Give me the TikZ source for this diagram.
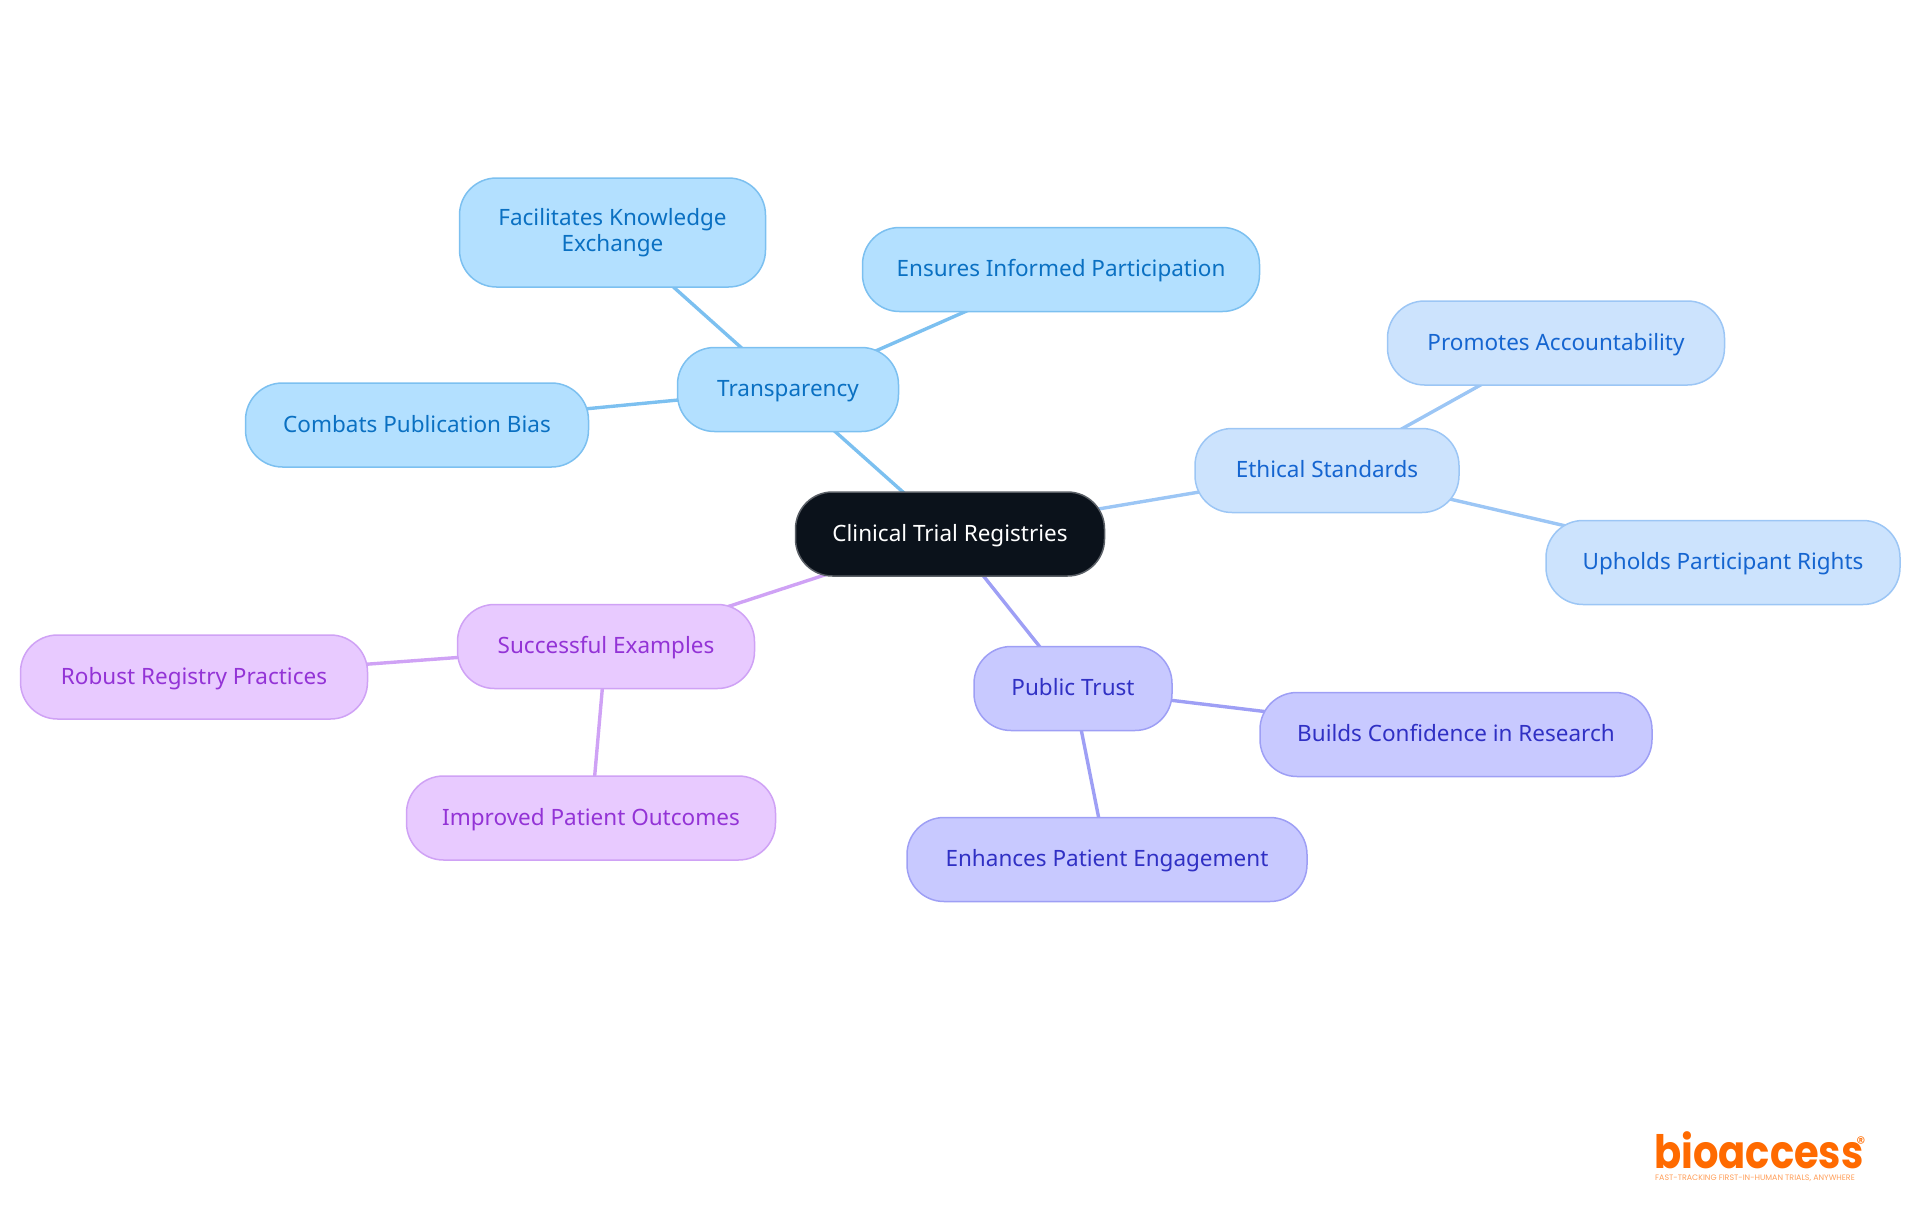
\documentclass[tikz,border=0pt]{standalone}
\usepackage{fontspec}
\setmainfont{Noto Sans}
\newfontfamily\logofont{Poppins}
\usetikzlibrary{backgrounds}
\definecolor{rootfill}{HTML}{0B121B}
\definecolor{rootline}{HTML}{5A5F66}
\definecolor{transfill}{HTML}{B3E0FF}
\definecolor{transline}{HTML}{7CC0F0}
\definecolor{transtext}{HTML}{0A70C2}
\definecolor{ethicfill}{HTML}{CCE3FD}
\definecolor{ethicline}{HTML}{9CC6F5}
\definecolor{ethictext}{HTML}{1565D0}
\definecolor{trustfill}{HTML}{C8C9FF}
\definecolor{trustline}{HTML}{9E9FF5}
\definecolor{trusttext}{HTML}{3030C4}
\definecolor{examplefill}{HTML}{E8CAFF}
\definecolor{exampleline}{HTML}{CFA2F5}
\definecolor{exampletext}{HTML}{9333D6}
\definecolor{logocol}{HTML}{FF6A00}
\tikzset{
  topic/.style={draw, rectangle, rounded corners=37pt, line width=1.5pt, minimum height=84pt,
    inner sep=0pt, align=center, text height=18pt, text depth=4pt, font=\fontsize{22.5}{26}\selectfont},
  root/.style={topic, fill=rootfill, draw=rootline, text=white},
  trans/.style={topic, fill=transfill, draw=transline, text=transtext},
  ethic/.style={topic, fill=ethicfill, draw=ethicline, text=ethictext},
  trust/.style={topic, fill=trustfill, draw=trustline, text=trusttext},
  example/.style={topic, fill=examplefill, draw=exampleline, text=exampletext},
  edge/.style={line width=3.4pt}
}
\begin{document}
\begin{tikzpicture}[x=1pt,y=-1pt]
  \useasboundingbox (0,0) rectangle (1920,1215);
  \node[root, minimum width=309pt] (registries) at (950,534) {Clinical Trial Registries};
  % first ring
  \node[trans, minimum width=221pt] (transparency) at (788,389.5) {Transparency};
  \node[ethic, minimum width=264pt] (ethical) at (1327,470.5) {Ethical Standards};
  \node[trust, minimum width=198pt] (publictrust) at (1073,688.5) {Public Trust};
  \node[example, minimum width=297pt] (successful) at (606,646.5) {Successful Examples};
  % leaves
  \node[trans, minimum width=306pt, minimum height=109pt, text height=42.4pt] (knowledge) at (612.5,232.5) {Facilitates Knowledge\\Exchange};
  \node[trans, minimum width=397pt] (informed) at (1061,269.5) {Ensures Informed Participation};
  \node[trans, minimum width=343pt] (bias) at (417,425) {Combats Publication Bias};
  \node[ethic, minimum width=337pt] (accountability) at (1556,343) {Promotes Accountability};
  \node[ethic, minimum width=354pt] (rights) at (1723,562.5) {Upholds Participant Rights};
  \node[trust, minimum width=392pt] (confidence) at (1456,734.5) {Builds Confidence in Research};
  \node[trust, minimum width=400pt] (engagement) at (1107,859.5) {Enhances Patient Engagement};
  \node[example, minimum width=347pt] (practices) at (194,677) {Robust Registry Practices};
  \node[example, minimum width=369pt] (outcomes) at (591,818) {Improved Patient Outcomes};
  % logo
  \node[inner sep=0pt, anchor=base west, text=logocol, font=\logofont\bfseries\fontsize{46}{46}\selectfont] (logo) at (1654,1168) {\scalebox{.87}[1]{bioaccess}};
  \node[inner sep=0pt, text=logocol, font=\logofont\fontsize{18}{18}\selectfont] (logomark) at (1861,1143) {®};
  \node[inner sep=0pt, anchor=base west, text=logocol!65, font=\logofont\fontsize{7.9}{8}\selectfont] (tagline) at (1655,1180) {FAST-TRACKING FIRST-IN-HUMAN TRIALS, ANYWHERE};
  \begin{scope}[on background layer]
    \draw[edge, transline] (registries.center) -- (transparency.center)
      (transparency.center) -- (knowledge.center)
      (transparency.center) -- (informed.center)
      (transparency.center) -- (bias.center);
    \draw[edge, ethicline] (registries.center) -- (ethical.center)
      (ethical.center) -- (accountability.center)
      (ethical.center) -- (rights.center);
    \draw[edge, trustline] (registries.center) -- (publictrust.center)
      (publictrust.center) -- (confidence.center)
      (publictrust.center) -- (engagement.center);
    \draw[edge, exampleline] (registries.center) -- (successful.center)
      (successful.center) -- (practices.center)
      (successful.center) -- (outcomes.center);
  \end{scope}
\end{tikzpicture}
\end{document}
